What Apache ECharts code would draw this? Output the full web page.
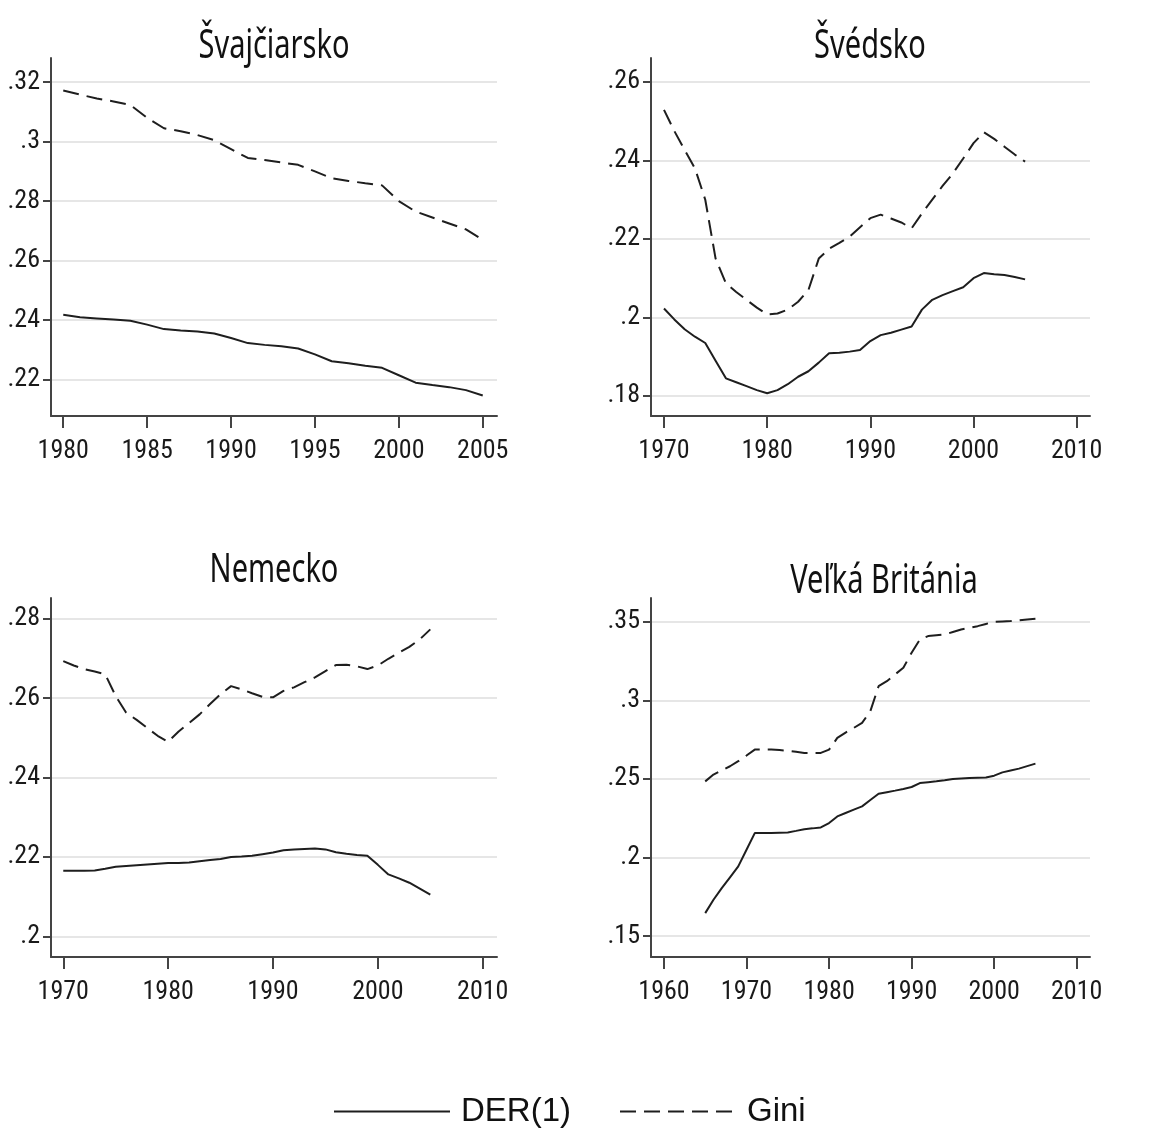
<!DOCTYPE html>
<html>
<head>
<meta charset="utf-8">
<script src="https://cdn.jsdelivr.net/npm/echarts@6/dist/echarts.min.js"></script>
<style>
html,body{margin:0;padding:0;background:#fff;}
#chart{width:1169px;height:1128px;}
</style>
</head>
<body>
<div id="chart"></div>
<script>
// ---- Data ----
const titles = ['Švajčiarsko', 'Švédsko', 'Nemecko', 'Veľká Británia'];
const seriesNames = ['DER(1)', 'Gini'];

const yearsCH = [1980,1981,1982,1983,1984,1985,1986,1987,1988,1989,1990,1991,1992,1993,1994,1995,1996,1997,1998,1999,2000,2001,2002,2003,2004,2005];
const derCH  = [.2418,.2410,.2406,.2402,.2398,.2385,.2370,.2365,.2362,.2355,.2340,.2323,.2317,.2312,.2305,.2285,.2262,.2255,.2247,.2240,.2215,.2190,.2182,.2175,.2165,.2147];
const giniCH = [.3172,.3158,.3145,.3135,.3123,.3080,.3045,.3035,.3022,.3005,.2975,.2945,.2938,.2930,.2922,.2900,.2877,.2868,.2860,.2853,.2800,.2765,.2745,.2725,.2705,.2670];

const yearsSE = [1970,1971,1972,1973,1974,1975,1976,1977,1978,1979,1980,1981,1982,1983,1984,1985,1986,1987,1988,1989,1990,1991,1992,1993,1994,1995,1996,1997,1998,1999,2000,2001,2002,2003,2004,2005];
const derSE  = [.2023,.1995,.1970,.1951,.1935,.1890,.1845,.1835,.1825,.1815,.1807,.1815,.1830,.1849,.1863,.1885,.1909,.1910,.1913,.1917,.1940,.1955,.1961,.1969,.1977,.2020,.2045,.2057,.2067,.2077,.2100,.2113,.2110,.2108,.2103,.2097];
const giniSE = [.2529,.2475,.2427,.2380,.2300,.2150,.2087,.2065,.2045,.2025,.2008,.2010,.2020,.2040,.2070,.2150,.2175,.2190,.2206,.2230,.2253,.2262,.2252,.2242,.2227,.2265,.2300,.2335,.2367,.2405,.2444,.2472,.2455,.2435,.2415,.2397];

const yearsDE = [1970,1971,1972,1973,1974,1975,1976,1977,1978,1979,1980,1981,1982,1983,1984,1985,1986,1987,1988,1989,1990,1991,1992,1993,1994,1995,1996,1997,1998,1999,2000,2001,2002,2003,2004,2005];
const derDE  = [.2165,.2165,.2165,.2166,.2170,.2175,.2177,.2179,.2181,.2183,.2185,.2185,.2186,.2189,.2192,.2195,.2200,.2201,.2203,.2207,.2211,.2217,.2219,.2220,.2221,.2219,.2212,.2208,.2205,.2203,.2180,.2156,.2146,.2135,.2120,.2105];
const giniDE = [.2693,.2682,.2673,.2667,.2660,.2605,.2563,.2545,.2525,.2505,.2490,.2516,.2537,.2559,.2585,.2610,.2630,.2622,.2612,.2603,.2602,.2618,.2627,.2640,.2652,.2668,.2683,.2684,.2680,.2673,.2682,.2699,.2714,.2729,.2748,.2773];

const yearsGB = [1965,1966,1967,1968,1969,1970,1971,1972,1973,1974,1975,1976,1977,1978,1979,1980,1981,1982,1983,1984,1985,1986,1987,1988,1989,1990,1991,1992,1993,1994,1995,1996,1997,1998,1999,2000,2001,2002,2003,2004,2005];
const derGB  = [.1647,.1732,.1806,.1875,.1944,.2050,.2156,.2156,.2156,.2158,.2160,.2170,.2181,.2186,.2192,.2220,.2262,.2284,.2305,.2326,.2366,.2406,.2416,.2426,.2437,.2449,.2474,.2480,.2485,.2492,.2500,.2503,.2506,.2508,.2510,.2521,.2542,.2554,.2566,.2582,.2598];
const giniGB = [.2485,.2528,.2555,.2581,.2613,.2649,.2687,.2687,.2687,.2684,.2680,.2673,.2666,.2666,.2666,.2687,.2761,.2795,.2825,.2857,.2931,.3090,.3122,.3165,.3207,.3303,.3387,.3409,.3414,.3419,.3435,.3451,.3462,.3472,.3486,.3500,.3502,.3504,.3509,.3514,.3519];

const xTicksCH = [1980,1985,1990,1995,2000,2005];
const xTicksSE = [1970,1980,1990,2000,2010];
const xTicksDE = [1970,1980,1990,2000,2010];
const xTicksGB = [1960,1970,1980,1990,2000,2010];
const yTicksCH = [.22,.24,.26,.28,.30,.32];
const yTicksSE = [.18,.20,.22,.24,.26];
const yTicksDE = [.20,.22,.24,.26,.28];
const yTicksGB = [.15,.20,.25,.30,.35];

// ---- Layout ----
const grids = [
  {left:51, top:58, width:446, height:358},
  {left:651, top:58, width:439, height:358},
  {left:51, top:598, width:446, height:359},
  {left:651, top:598, width:439, height:359}
];
const xRanges = [[1979.27,2005.85],[1968.74,2011.29],[1968.83,2011.36],[1958.43,2011.61]];
const yRanges = [[.2078,.3281],[.1749,.2661],[.1948,.2852],[.1368,.3651]];
const xTicks = [xTicksCH,xTicksSE,xTicksDE,xTicksGB];
const yTicks = [yTicksCH,yTicksSE,yTicksDE,yTicksGB];
const titlePos = [[274,46],[870,46],[274,570],[884,581]];
const panels = [
  [yearsCH, derCH, giniCH],
  [yearsSE, derSE, giniSE],
  [yearsDE, derDE, giniDE],
  [yearsGB, derGB, giniGB]
];

const tickFont = "'Liberation Sans Narrow','Arial Narrow','Roboto Condensed',sans-serif";
const axisColor = '#444';
const lineColor = '#1e1e1e';

const xAxes = [], yAxes = [], series = [], graphics = [];
for (let i = 0; i < 4; i++) {
  xAxes.push({
    type:'value', gridIndex:i, min:xRanges[i][0], max:xRanges[i][1],
    axisLine:{show:true, onZero:false, lineStyle:{color:axisColor, width:2}},
    axisTick:{show:true, length:12, lineStyle:{color:axisColor, width:2}, customValues:xTicks[i]},
    axisLabel:{customValues:xTicks[i], margin:22, fontSize:26, fontFamily:tickFont, color:'#1a1a1a',
      formatter: v => String(Math.round(v))},
    splitLine:{show:false}
  });
  yAxes.push({
    type:'value', gridIndex:i, min:yRanges[i][0], max:yRanges[i][1],
    axisLine:{show:true, onZero:false, lineStyle:{color:axisColor, width:2}},
    axisTick:{show:true, length:8, lineStyle:{color:axisColor, width:2}, customValues:yTicks[i]},
    axisLabel:{customValues:yTicks[i], margin:11, fontSize:26, fontFamily:tickFont, color:'#1a1a1a',
      formatter: v => String(+(+v).toFixed(2)).replace(/^0\./,'.')},
    splitLine:{show:true, lineStyle:{color:'#e6e6e6', width:2}}
  });
  const [yrs, der, gini] = panels[i];
  series.push({
    name:seriesNames[0], type:'line', xAxisIndex:i, yAxisIndex:i, symbol:'none',
    lineStyle:{color:lineColor, width:2, type:'solid'}, itemStyle:{color:lineColor},
    data: yrs.map((y,k)=>[y, der[k]]), animation:false
  });
  series.push({
    name:seriesNames[1], type:'line', xAxisIndex:i, yAxisIndex:i, symbol:'none',
    lineStyle:{color:lineColor, width:2, type:[16,8]}, itemStyle:{color:lineColor},
    data: yrs.map((y,k)=>[y, gini[k]]), animation:false
  });
  graphics.push({
    type:'text', x:titlePos[i][0], y:titlePos[i][1], scaleY:1.4,
    style:{text:titles[i], fill:'#111', font:"29px 'Noto Sans'", textAlign:'center', textVerticalAlign:'middle'}
  });
}

const chart = echarts.init(document.getElementById('chart'), null, {renderer:'canvas'});
chart.setOption({
  animation:false,
  backgroundColor:'#fff',
  grid: grids,
  xAxis: xAxes,
  yAxis: yAxes,
  series: series,
  graphic: graphics,
  legend: {
    data: seriesNames, left:328, top:1090, itemWidth:116, itemHeight:20, itemGap:48,
    itemStyle:{opacity:0},
    textStyle:{fontSize:33, fontFamily:"'Liberation Sans',Arial,sans-serif", color:'#111', padding:[0,0,0,6]}
  }
});
</script>
</body>
</html>
